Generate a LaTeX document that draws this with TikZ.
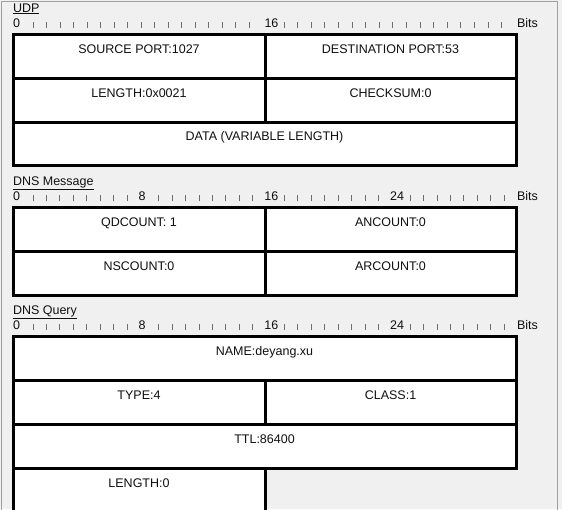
\documentclass[tikz,border=0pt]{standalone}
\usepackage{fontspec}
\setmainfont{Liberation Sans}
\definecolor{bg}{HTML}{F0F0F0}
\definecolor{framec}{HTML}{A0A0A0}
\definecolor{tickc}{HTML}{6E6E6E}
\definecolor{txt}{HTML}{101010}
\begin{document}
\begin{tikzpicture}[x=1pt,y=-1pt,
  every node/.style={font=\fontsize{12.5}{14}\selectfont, text=txt, inner sep=0pt, outer sep=0pt},
  field/.style={draw=black, line width=3pt, fill=white, anchor=north west,
    minimum height=44pt, text height=9pt, text depth=15pt},
  half/.style={field, minimum width=252pt},
  halfr/.style={field, minimum width=251pt},
  full/.style={field, minimum width=503pt},
  tickmark/.style={draw=tickc, line width=1pt},
  rulelabel/.style={anchor=base west},
  title/.style={anchor=base west}]
\useasboundingbox (0,0) rectangle (562,509);
\clip (0,0) rectangle (562,509);
\fill[bg] (0,0) rectangle (562,509);
\draw[framec, line width=1pt] (1.5,515) -- (1.5,1.5) -- (557.5,1.5) -- (557.5,515);

% ---------- UDP ----------
\node[title] (udpt) at (13,12) {\underline{UDP}};
\node[rulelabel] (u0) at (13,27.5) {0};
\node[rulelabel] (u16) at (264.5,27.5) {16};
\node[rulelabel] (ub) at (517,27.5) {Bits};
\foreach \i in {0,...,16} \draw[tickmark] ({33+13.5*\i},22) -- ++(0,5.5);
\foreach \i in {0,...,16} \draw[tickmark] ({284+13.6*\i},22) -- ++(0,5.5);
\node[half] (sport) at (13,34) {SOURCE PORT:1027};
\node[halfr] (dport) at (265,34) {DESTINATION PORT:53};
\node[half] (ulen) at (13,78) {LENGTH:0x0021};
\node[halfr] (ucsum) at (265,78) {CHECKSUM:0};
\node[full, minimum height=43pt] (udata) at (13,122) {DATA (VARIABLE LENGTH)};

% ---------- DNS Message ----------
\node[title] (dmt) at (13,185) {\underline{DNS Message}};
\foreach \k/\l in {0/0,1/8,2/16,3/24} {
  \node[rulelabel] (dm\k) at ({13+125.7*\k},200.5) {\l};
  \foreach \j in {0,...,7} \draw[tickmark] ({13+125.7*\k+20+13.45*\j},195) -- ++(0,5.5);
}
\node[rulelabel] (dmb) at (517,200.5) {Bits};
\node[half] (qd) at (13,207) {QDCOUNT: 1};
\node[halfr] (an) at (265,207) {ANCOUNT:0};
\node[half] (ns) at (13,251) {NSCOUNT:0};
\node[halfr] (ar) at (265,251) {ARCOUNT:0};

% ---------- DNS Query ----------
\node[title] (dqt) at (13,314) {\underline{DNS Query}};
\foreach \k/\l in {0/0,1/8,2/16,3/24} {
  \node[rulelabel] (dq\k) at ({13+125.7*\k},329.5) {\l};
  \foreach \j in {0,...,7} \draw[tickmark] ({13+125.7*\k+20+13.45*\j},324) -- ++(0,5.5);
}
\node[rulelabel] (dqb) at (517,329.5) {Bits};
\node[full] (qname) at (13,336) {NAME:deyang.xu};
\node[half] (qtype) at (13,380) {TYPE:4};
\node[halfr] (qclass) at (265,380) {CLASS:1};
\node[full] (qttl) at (13,424) {TTL:86400};
\node[half] (qlen) at (13,468) {LENGTH:0};
\end{tikzpicture}
\end{document}
